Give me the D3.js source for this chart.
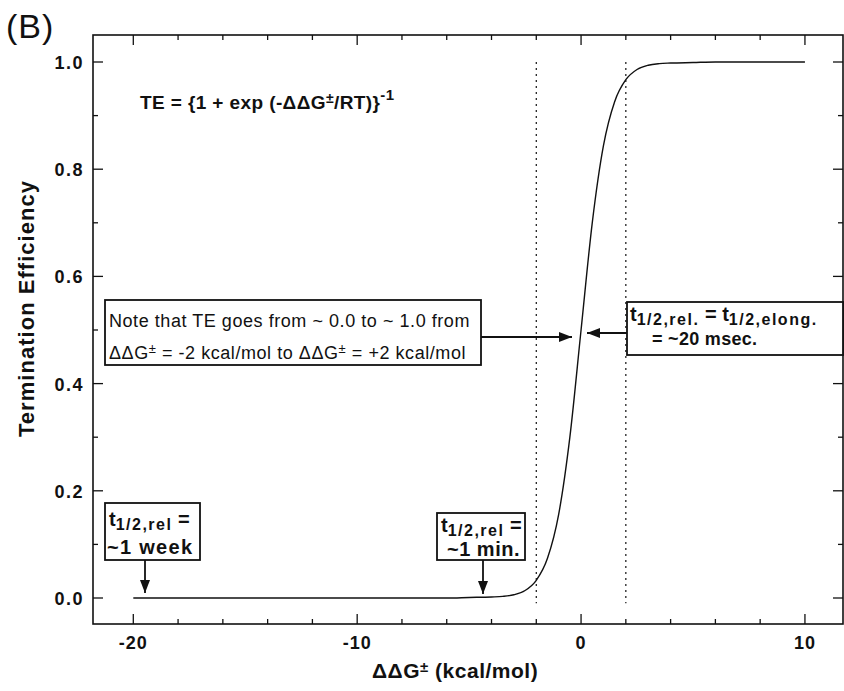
<!DOCTYPE html>
<html>
<head>
<meta charset="utf-8">
<script src="https://cdn.jsdelivr.net/npm/d3@7"></script>
<style>
  body { margin: 0; background: #fff; }
  text { font-family: "Liberation Sans", Arial, Helvetica, sans-serif; fill: #111; }
</style>
</head>
<body>
<svg id="chart" width="844" height="691"></svg>
<script>
// values
var dgValues = [-20, -15, -10, -8, -6, -5, -4, -3.5, -3, -2.5, -2, -1.5, -1, -0.5, 0, 0.5, 1, 1.5, 2, 2.5, 3, 3.5, 4, 5, 6, 8, 10];
var teValues = [0.000, 0.000, 0.000, 0.000, 0.000, 0.001, 0.002, 0.003, 0.006, 0.014, 0.033, 0.074, 0.156, 0.300, 0.500, 0.700, 0.844, 0.926, 0.967, 0.986, 0.994, 0.997, 0.998, 0.999, 1.000, 1.000, 1.000];
var xMajor = [-20, -10, 0, 10];
var xMinor = [-20, -18, -16, -14, -12, -10, -8, -6, -4, -2, 0, 2, 4, 6, 8, 10];
var yMajor = [0.0, 0.2, 0.4, 0.6, 0.8, 1.0];
var yMinor = [0.0, 0.1, 0.2, 0.3, 0.4, 0.5, 0.6, 0.7, 0.8, 0.9, 1.0];
var dottedX = [-2, 2];

var svg = d3.select("#chart");
var L = 93, R = 843, T = 35, B = 624;

var x = d3.scaleLinear().domain([-21.8, 11.7]).range([L, R]);
var y = d3.scaleLinear().domain([0, 1]).range([598, 62]);

// frame
svg.append("rect").attr("x", L).attr("y", T).attr("width", R - L).attr("height", B - T)
  .attr("fill", "none").attr("stroke", "#111").attr("stroke-width", 1.6);

var g = svg.append("g").attr("stroke", "#111").attr("stroke-width", 1.3);
// ticks on all four sides, pointing inward
xMinor.forEach(function(v){
  var len = xMajor.indexOf(v) >= 0 ? 10 : 5;
  g.append("line").attr("x1", x(v)).attr("x2", x(v)).attr("y1", B).attr("y2", B - len);
  g.append("line").attr("x1", x(v)).attr("x2", x(v)).attr("y1", T).attr("y2", T + len);
});
yMinor.forEach(function(v){
  var len = yMajor.some(function(m){ return Math.abs(m - v) < 1e-9; }) ? 10 : 5;
  g.append("line").attr("x1", L).attr("x2", L + len).attr("y1", y(v)).attr("y2", y(v));
  g.append("line").attr("x1", R).attr("x2", R - len).attr("y1", y(v)).attr("y2", y(v));
});

svg.selectAll("text.xt").data(xMajor).enter().append("text")
  .attr("class", "xt").attr("x", function(d){ return x(d); }).attr("y", 649)
  .attr("text-anchor", "middle").attr("font-size", 18).attr("font-weight", "bold")
  .attr("letter-spacing", 1)
  .text(function(d){ return d; });

svg.selectAll("text.yt").data(yMajor).enter().append("text")
  .attr("class", "yt").attr("x", 84).attr("y", function(d){ return y(d) + 7; })
  .attr("text-anchor", "end").attr("font-size", 18).attr("font-weight", "bold")
  .attr("letter-spacing", 1.5)
  .text(function(d){ return d.toFixed(1); });

// dotted lines
svg.selectAll("line.dot").data(dottedX).enter().append("line")
  .attr("x1", function(d){ return x(d); }).attr("x2", function(d){ return x(d); })
  .attr("y1", y(1.0)).attr("y2", y(-0.01))
  .attr("stroke", "#111").attr("stroke-width", 1.2).attr("stroke-dasharray", "2,4");

// curve
var pts = dgValues.map(function(d, i){ return [d, teValues[i]]; });
svg.append("path").datum(pts)
  .attr("d", d3.line().x(function(d){ return x(d[0]); }).y(function(d){ return y(d[1]); }).curve(d3.curveMonotoneX))
  .attr("fill", "none").attr("stroke", "#111").attr("stroke-width", 1.4);

// labels
svg.append("text").attr("x", 6).attr("y", 38).attr("font-size", 34).attr("letter-spacing", 1).text("(B)");

svg.append("text").attr("transform", "translate(34,309) rotate(-90)")
  .attr("text-anchor", "middle").attr("font-size", 22).attr("font-weight", "bold")
  .attr("textLength", 256).attr("lengthAdjust", "spacing")
  .text("Termination Efficiency");

var xl = svg.append("text").attr("x", 372).attr("y", 678).attr("font-size", 21).attr("font-weight", "bold")
  .attr("letter-spacing", 0.5);
xl.append("tspan").text("\u0394\u0394G");
xl.append("tspan").attr("font-size", 15).attr("dy", -6).text("\u00b1");
xl.append("tspan").attr("dy", 6).text("  (kcal/mol)");

var f = svg.append("text").attr("x", 140).attr("y", 109).attr("font-size", 19).attr("font-weight", "bold")
  .attr("letter-spacing", 0.4);
f.append("tspan").text("TE = {1 + exp (-\u0394\u0394G");
f.append("tspan").attr("font-size", 14).attr("dy", -6).text("\u00b1");
f.append("tspan").attr("dy", 6).text("/RT)}");
f.append("tspan").attr("font-size", 15).attr("dy", -9).text("-1");

function box(x0, y0, w, h){
  svg.append("rect").attr("x", x0).attr("y", y0).attr("width", w).attr("height", h)
    .attr("fill", "#fff").attr("stroke", "#111").attr("stroke-width", 1.8);
}
function arrow(x1, y1, x2, y2){
  svg.append("line").attr("x1", x1).attr("y1", y1).attr("x2", x2).attr("y2", y2)
    .attr("stroke", "#111").attr("stroke-width", 1.8);
  var a = Math.atan2(y2 - y1, x2 - x1), s = 13, w = 5;
  var p = [[x2, y2],
    [x2 - s * Math.cos(a) + w * Math.sin(a), y2 - s * Math.sin(a) - w * Math.cos(a)],
    [x2 - s * Math.cos(a) - w * Math.sin(a), y2 - s * Math.sin(a) + w * Math.cos(a)]];
  svg.append("path").attr("d", "M" + p.join("L") + "Z").attr("fill", "#111");
}
// t with a subscript, then trailing text
function tsub(parent, sub, tail){
  parent.append("tspan").text("t");
  parent.append("tspan").attr("font-size", 16).attr("letter-spacing", 1.5).attr("dy", 4).text(sub);
  parent.append("tspan").attr("dy", -4).text(tail);
}

// note box
box(105, 300, 376, 65);
svg.append("text").attr("x", 109).attr("y", 327).attr("font-size", 18).attr("letter-spacing", 0.55)
  .text("Note that TE goes from ~ 0.0 to ~ 1.0 from");
var n2 = svg.append("text").attr("x", 109).attr("y", 359).attr("font-size", 18).attr("letter-spacing", 0.55);
n2.append("tspan").text("\u0394\u0394G");
n2.append("tspan").attr("font-size", 13).attr("dy", -6).text("\u00b1");
n2.append("tspan").attr("dy", 6).text(" = -2 kcal/mol to \u0394\u0394G");
n2.append("tspan").attr("font-size", 13).attr("dy", -6).text("\u00b1");
n2.append("tspan").attr("dy", 6).text(" = +2 kcal/mol");
arrow(481, 337, 572, 337);

// midpoint box
box(627, 302, 216, 53);
var m1 = svg.append("text").attr("x", 630).attr("y", 321).attr("font-size", 20).attr("font-weight", "bold");
m1.append("tspan").text("t");
m1.append("tspan").attr("font-size", 16).attr("letter-spacing", 1.5).attr("dy", 4).text("1/2,rel.");
m1.append("tspan").attr("dy", -4).text(" = t");
m1.append("tspan").attr("font-size", 16).attr("letter-spacing", 1.5).attr("dy", 4).text("1/2,elong.");
svg.append("text").attr("x", 652).attr("y", 345).attr("font-size", 18).attr("font-weight", "bold")
  .attr("letter-spacing", 0.3).text("= ~20 msec.");
arrow(627, 333, 587, 333);

// week box
box(105, 503, 95, 57);
tsub(svg.append("text").attr("x", 109).attr("y", 526).attr("font-size", 20).attr("font-weight", "bold"),
  "1/2,rel", " =");
svg.append("text").attr("x", 107).attr("y", 554).attr("font-size", 20).attr("font-weight", "bold")
  .attr("letter-spacing", 1.3).text("~1 week");
arrow(145, 560, 145, 593);

// min box
box(437, 513, 88, 47);
tsub(svg.append("text").attr("x", 441).attr("y", 532).attr("font-size", 20).attr("font-weight", "bold"),
  "1/2,rel", " =");
svg.append("text").attr("x", 447).attr("y", 556).attr("font-size", 20).attr("font-weight", "bold")
  .attr("letter-spacing", 0.5).text("~1 min.");
arrow(483, 560, 483, 594);
</script>
</body>
</html>
